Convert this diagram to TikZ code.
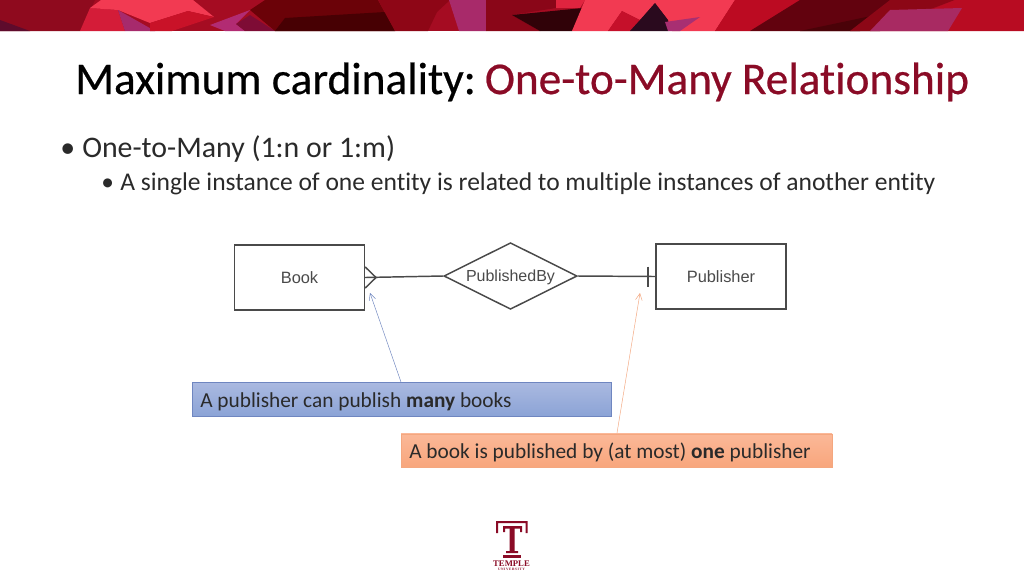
\documentclass[tikz,border=0pt]{standalone}
\usepackage{fontspec}
\setmainfont[Ligatures={TeX,NoCommon}]{Carlito}
\newfontfamily\erfont{Liberation Sans}
\newfontfamily\titlefont[FakeBold=0.5,Ligatures={TeX,NoCommon}]{Carlito}
\newfontfamily\logofont{Liberation Serif}
\usetikzlibrary{shapes.geometric,arrows.meta,calc}
\definecolor{maroon}{HTML}{8A0B26}
\definecolor{ink}{HTML}{2A2A2A}
\definecolor{erline}{HTML}{4A4A4A}
\definecolor{blueedge}{HTML}{6F86C0}
\definecolor{bluetop}{HTML}{AAB9E0}
\definecolor{bluebot}{HTML}{8BA3D6}
\definecolor{orangeedge}{HTML}{F4A77F}
\definecolor{orangetop}{HTML}{FBB898}
\definecolor{orangebot}{HTML}{F8A67C}
\tikzset{
  x=0.75pt,y=-0.75pt,
  patch/.code={\definecolor{tmpc}{HTML}{#1}\pgfkeysalso{/tikz/fill=tmpc}},
  erbox/.style={draw=erline,line width=1.1pt,fill=white,minimum width=97.5pt,minimum height=48.75pt,inner sep=0pt,text=erline,font=\erfont\fontsize{12.3}{14}\selectfont},
  erdia/.style={diamond,aspect=2,draw=erline,line width=1.1pt,fill=white,minimum width=100pt,minimum height=50pt,inner sep=0pt,text=erline,text depth=0pt,font=\erfont\fontsize{12}{14}\selectfont},
  erlink/.style={draw=erline,line width=1.1pt},
  notebox/.style={rectangle,inner sep=0pt,line width=0.5pt},
  notetext/.style={anchor=base west,inner sep=0pt,text=ink,font=\fontsize{16}{18}\selectfont},
  notearrow/.style={draw=#1,line width=0.35pt,-{Straight Barb[length=5pt,width=5pt]}},
  logo/.style={fill=maroon,draw=none},
  bodytext/.style={anchor=base west,inner sep=0pt,text=ink,font=\fontsize{#1}{#1}\selectfont},
}
\begin{document}
\begin{tikzpicture}
\useasboundingbox (0,0) rectangle (1024,576);
\fill[white] (0,0) rectangle (1024,576);
% banner
\fill[patch=A50C22] (0,0) rectangle (1024,31);
\fill[patch=8F0A1E] (0,0) -- (95,0) -- (80,31) -- (0,31) -- cycle;
\fill[patch=5E0B2C] (0,20) -- (30,31) -- (0,31) -- cycle;
\fill[patch=D41C38] (90,8) -- (118,10) -- (125,31) -- (80,31) -- cycle;
\fill[patch=F23A52] (101,0) -- (193,0) -- (214,17) -- (188,11) -- (150,23) -- (118,10) -- (90,8) -- cycle;
\fill[patch=A72A6C] (118,10) -- (155,31) -- (125,31) -- cycle;
\fill[patch=C91228] (150,23) -- (188,11) -- (214,17) -- (172,31) -- (150,31) -- cycle;
\fill[patch=B22B73] (210,25) -- (250,10) -- (236,24) -- (245,31) -- (225,31) -- cycle;
\fill[patch=7E0C35] (236,24) -- (250,15) -- (275,31) -- (245,31) -- cycle;
\fill[patch=6B0208] (265,0) -- (378,0) -- (395,31) -- (275,31) -- (250,10) -- cycle;
\fill[patch=470003] (285,18) -- (385,12) -- (395,31) -- (275,31) -- cycle;
\fill[patch=8E0616] (378,0) -- (450,0) -- (437,12) -- (428,31) -- (395,31) -- cycle;
\fill[patch=A82A6A] (449,0) -- (486,0) -- (486,31) -- (459,31) -- cycle;
\fill[patch=8A0618] (486,0) -- (556,0) -- (556,8) -- (512,15) -- (540,31) -- (486,31) -- cycle;
\fill[patch=E0243F] (556,0) -- (585,0) -- (580,8) -- (556,8) -- cycle;
\fill[patch=300208] (512,15) -- (583,8) -- (572,31) -- (540,31) -- cycle;
\fill[patch=F23A52] (585,0) -- (735,0) -- (715,31) -- (672,31) -- (668,20) -- (655,3) -- (640,20) -- (622,11) -- (608,31) -- (572,31) -- cycle;
\fill[patch=C5102A] (622,11) -- (640,20) -- (630,31) -- (608,31) -- cycle;
\fill[patch=2A0A1E] (655,3) -- (668,20) -- (668,31) -- (630,31) -- (640,20) -- cycle;
\fill[patch=A82F72] (665,22) -- (700,17) -- (680,31) -- (668,31) -- cycle;
\fill[patch=BC0B22] (735,0) -- (800,0) -- (750,31) -- (715,31) -- cycle;
\fill[patch=62020E] (800,0) -- (935,0) -- (860,31) -- (750,31) -- cycle;
\fill[patch=4A0208] (890,12) -- (880,31) -- (800,31) -- cycle;
\fill[patch=8C0716] (890,0) -- (955,0) -- (870,31) -- (850,31) -- cycle;
\fill[patch=B80C22] (955,0) -- (1024,0) -- (1024,31) -- (870,31) -- (930,10) -- cycle;
\fill[patch=A82A62] (890,10) -- (962,8) -- (948,31) -- (870,31) -- cycle;
% title
\node[anchor=base west,inner sep=0pt,font=\titlefont\fontsize{34}{38}\selectfont] (title) at (75,94)
  {\textcolor{black}{Maximum cardinality:} \hspace{-3.5pt}\textcolor{maroon}{One-to-Many Relationship}};
% bullets
\node[bodytext=22.4] (b1mark) at (60,157) {•};
\node[bodytext=22.4] (b1) at (82,157) {One-to-Many (1:n or 1:m)};
\node[bodytext=19] (b2mark) at (101,190) {•};
\node[bodytext=19.15] (b2) at (120,190) {A single instance of one entity is related to multiple instances of another entity};
% ER diagram
\node[erbox] (book) at (299.5,277.5) {Book};
\node[erdia] (rel) at (510.5,276) {PublishedBy};
\node[erbox] (pub) at (721,276.5) {Publisher};
\draw[erlink] (book.east) -- (rel.west);
\draw[erlink] (rel.east) -- (pub.west);
% crow's foot and bar
\coordinate (cf) at (376,277.5);
\draw[erlink] ($(book.east)+(0,-10.5)$) -- (cf) -- ($(book.east)+(0,10.5)$);
\draw[erlink,line width=1.2pt] ($(pub.west)+(-7.5,-10)$) -- ($(pub.west)+(-7.5,10)$);
% notes
\node[notebox,draw=blueedge,top color=bluetop,bottom color=bluebot,minimum width=314.25pt,minimum height=25.5pt] (nb) at (401.5,399.5) {};
\node[notetext] (nbt) at (200,407) {A publisher can publish \textbf{many} books};
\node[notebox,draw=orangeedge,top color=orangetop,bottom color=orangebot,minimum width=323.25pt,minimum height=25pt] (no) at (616.5,450.5) {};
\node[notetext] (not) at (409,458) {A book is published by (at most) \textbf{one} publisher};
\coordinate (ab) at (370,293);
\coordinate (ao) at (640,293);
\coordinate (sb) at (401,382);
\coordinate (so) at (617,433);
\draw[notearrow=blueedge] (sb) -- (ab);
\draw[notearrow=orangeedge] (so) -- (ao);
% logo
\fill[logo] (496,521) rectangle (527.5,523) (496,521) rectangle (498,533) (525.5,521) rectangle (527.5,533);
\fill[logo] (503,526) rectangle (522,528.5) (503,526) rectangle (505,532) (520,526) rectangle (522,532);
\fill[logo] (509.5,528) rectangle (514.5,552) (506,551) rectangle (518,553);
\fill[logo] (503,555) rectangle (521,557.5);
\node[inner sep=0pt,text=maroon,font=\logofont\bfseries\fontsize{6.5}{7}\selectfont] (logot) at (511.5,564) {TEMPLE};
\node[inner sep=0pt,text=maroon,font=\logofont\bfseries\fontsize{2.6}{3}\selectfont] (logou) at (511.5,569.5) {U\,N\,I\,V\,E\,R\,S\,I\,T\,Y};
\end{tikzpicture}
\end{document}
